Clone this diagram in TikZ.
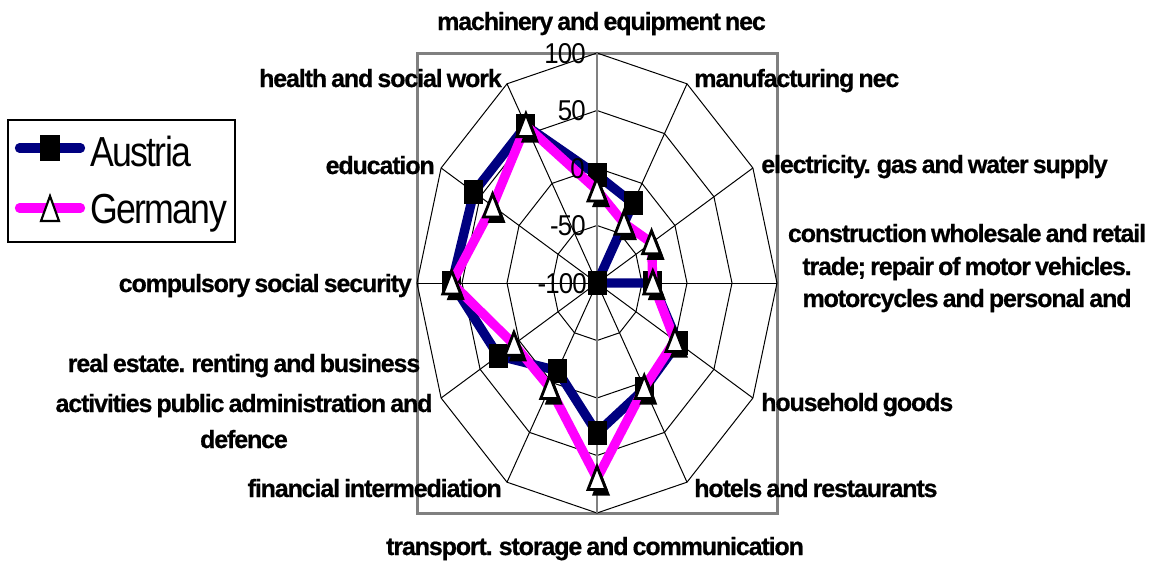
\documentclass[tikz,border=0pt]{standalone}
\usepackage{fontspec}
\setmainfont{Liberation Sans}
\newfontfamily\catfont{Liberation Sans}[LetterSpace=-4.5,WordSpace=0.7,FakeBold=0.6]
\newfontfamily\axfont{Liberation Sans}[FakeStretch=0.9,LetterSpace=-3]
\newfontfamily\legfont{Liberation Sans}[FakeStretch=0.85,LetterSpace=-4]
\definecolor{ausblue}{HTML}{000080}
\definecolor{germag}{HTML}{FF00FF}
\definecolor{axgray}{HTML}{808080}
\newcommand\gertri[1]{%
  \fill[black] ([shift={(4,6)}]#1) ++(0,-12) -- ++(9,23) -- ++(-18,0) -- cycle;
  \filldraw[fill=white,draw=black,line width=2.1pt,line join=miter] (#1) ++(0,-12) -- ++(9,23) -- ++(-18,0) -- cycle;
}
\begin{document}
\begin{tikzpicture}[x=0.75pt,y=-0.75pt,
  gridline/.style={draw=black,line width=0.75pt},
  axisline/.style={draw=axgray,line width=1.5pt},
  frame/.style={draw=axgray,line width=2.25pt},
  aus/.style={draw=ausblue,line width=7pt,line join=round,line cap=round},
  ger/.style={draw=germag,line width=7pt,line join=round,line cap=round},
  sqmark/.style={rectangle,fill=black,inner sep=0pt,minimum width=14.25pt,minimum height=18pt},
  catlab/.style={inner sep=0pt,font=\catfont\bfseries\fontsize{18.75}{22}\selectfont},
  axlab/.style={inner sep=0pt,anchor=east,text height=15.5pt,text depth=0pt,font=\axfont\fontsize{21.5}{24}\selectfont},
  leglab/.style={inner sep=0pt,anchor=base west,font=\legfont\fontsize{31.5}{36}\selectfont},
]
\useasboundingbox (0,0) rectangle (1151,564);
\fill[white] (0,0) rectangle (1151,564);

% plot area frame
\draw[frame] (417,53) rectangle (777,513);

% grid
\coordinate (C) at (597,283);
\foreach \k in {0,...,11} {\coordinate (V\k) at ({597+180*sin(30*\k)},{283-230*cos(30*\k)});}
\foreach \r in {0.25,0.5,0.75,1}{
  \draw[gridline] (597,{283-\r*230}) \foreach \k in {1,...,11}{ -- ({597+\r*180*sin(30*\k)},{283-\r*230*cos(30*\k)}) } -- cycle;
}
\foreach \k in {1,2,3,4,5,7,8,9,10,11} {\draw[gridline] (C) -- (V\k);}
\draw[axisline] (V0) -- (V6);

% data
\foreach \f [count=\i from 0] in {0.47,0.40,0,0.31,0.52,0.53,0.652,0.44,0.633,0.806,0.79,0.79}
  {\coordinate (A\i) at ({597+\f*180*sin(30*\i)},{283-\f*230*cos(30*\i)});}
\foreach \f [count=\i from 0] in {0.404,0.30,0.35,0.31,0.50,0.525,0.85,0.525,0.533,0.807,0.67,0.79}
  {\coordinate (G\i) at ({597+\f*180*sin(30*\i)},{283-\f*230*cos(30*\i)});}

\draw[aus] (A0) \foreach \i in {1,...,11}{ -- (A\i)} -- cycle;
\foreach \i in {0,...,11} {\node[sqmark] (mA\i) at (A\i) {};}
\draw[ger] (G0) \foreach \i in {1,...,11}{ -- (G\i)} -- cycle;
\foreach \i in {0,...,11} {\gertri{G\i}}

% value axis labels
\node[axlab] (t100) at (586,53) {100};
\node[axlab] (t50) at (586,110.5) {50};
\node[axlab] (t0) at (585,168) {0};
\node[axlab] (tm50) at (586,225.5) {-50};
\node[axlab] (tm100) at (587,283) {-100};

% category labels
\node[catlab,anchor=base] (l0) at (601.5,30) {machinery and equipment nec};
\node[catlab,anchor=base west] (l1) at (694,87) {manufacturing nec};
\node[catlab,anchor=base west] (l2) at (761,173) {electricity. gas and water supply};
\node[catlab,anchor=base] (l3a) at (967,242) {construction wholesale and retail};
\node[catlab,anchor=base] (l3b) at (967,275) {trade; repair of motor vehicles.};
\node[catlab,anchor=base] (l3c) at (967,307) {motorcycles and personal and};
\node[catlab,anchor=base west] (l4) at (761,411) {household goods};
\node[catlab,anchor=base west] (l5) at (694,497) {hotels and restaurants};
\node[catlab,anchor=base] (l6) at (595,555) {transport. storage and communication};
\node[catlab,anchor=base east] (l7) at (502,497) {financial intermediation};
\node[catlab,anchor=base] (l8a) at (244,372) {real estate. renting and business};
\node[catlab,anchor=base] (l8b) at (244,412) {activities public administration and};
\node[catlab,anchor=base] (l8c) at (244,448) {defence};
\node[catlab,anchor=base east] (l9) at (412,292) {compulsory social security};
\node[catlab,anchor=base east] (l10) at (435,174) {education};
\node[catlab,anchor=base east] (l11) at (502,87) {health and social work};

% legend
\draw[black,line width=0.9pt] (8,120) rectangle (235,242);
\coordinate (la1) at (19.5,148); \coordinate (la2) at (80.5,148);
\coordinate (lg1) at (19.5,208); \coordinate (lg2) at (80.5,208);
\draw[aus] (la1) -- (la2);
\node[sqmark,minimum width=15pt,minimum height=19.5pt] (legsq) at (50,148) {};
\draw[ger] (lg1) -- (lg2);
\filldraw[fill=white,draw=black,line width=1.6pt] (50,196) -- (59,221) -- (41,221) -- cycle;
\node[leglab] (legA) at (90,166) {Austria};
\node[leglab] (legG) at (90,223) {Germany};
\end{tikzpicture}
\end{document}
